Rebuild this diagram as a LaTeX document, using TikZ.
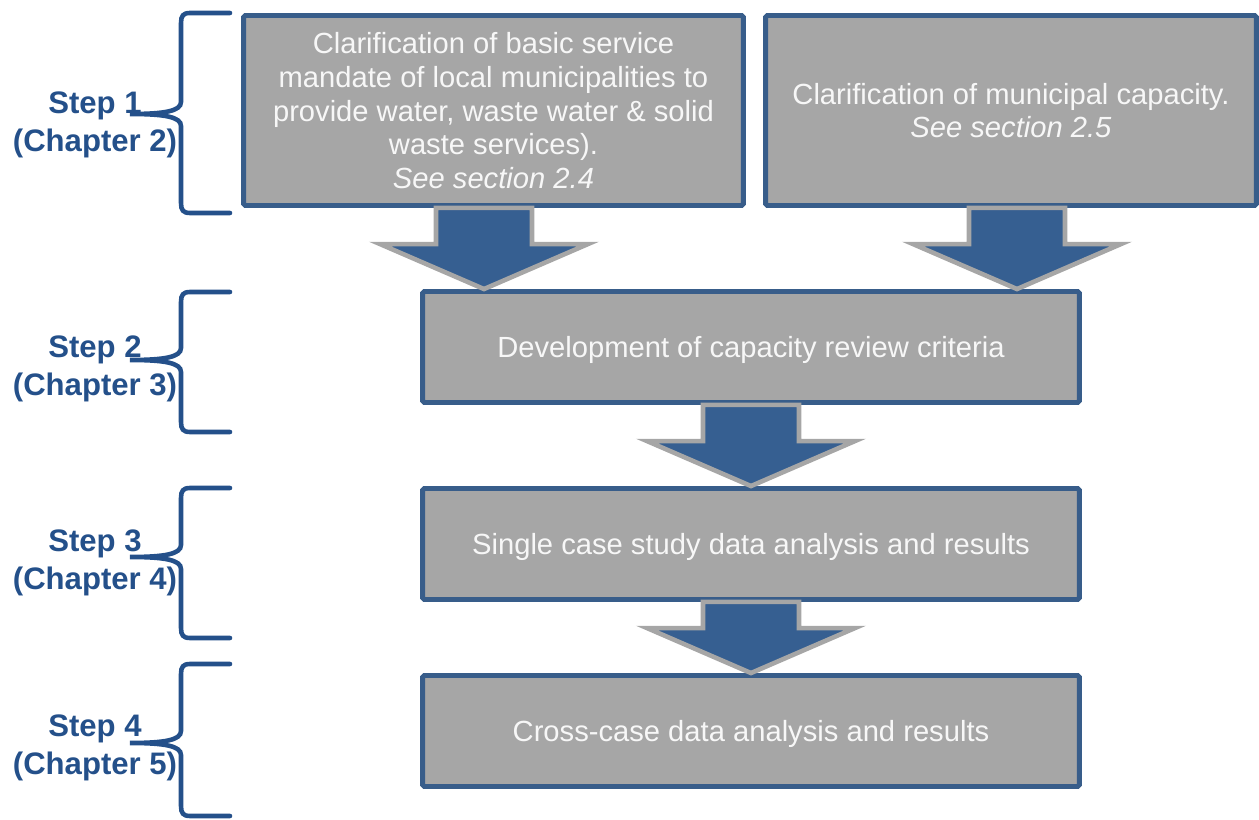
\documentclass[tikz,border=0pt]{standalone}
\usepackage{fontspec}
\setmainfont{Liberation Sans}
\usetikzlibrary{calc,positioning}

\definecolor{boxblue}{HTML}{385D8A}
\definecolor{arrowblue}{HTML}{365F91}
\definecolor{stepblue}{HTML}{24508A}
\definecolor{boxgray}{HTML}{A6A6A6}
\definecolor{boxtext}{HTML}{F7F7F7}

\tikzset{
  stagebox/.style={draw=boxblue,fill=boxgray,line width=2.8pt,rounded corners=1pt,
    text=boxtext,align=center,inner sep=0pt,text depth=0pt,font=\fontsize{16.6}{19.2}\selectfont},
  blockarrow/.style={draw=boxgray,fill=arrowblue,line width=2.6pt,line join=miter},
  stepbrace/.style={draw=stepblue,line width=2.6pt,line cap=round},
  steplabel/.style={text=stepblue,align=center,font=\bfseries\fontsize{17.7}{21.5}\selectfont}
}

\newcommand{\flowarrow}[3]{%
  \coordinate (ax) at (#1,0);
  \coordinate (tail) at (#2.south -| ax);
  \coordinate (head) at (#3.north -| ax);
  \draw[blockarrow] ($(tail)+(-48,0)$) -- ($(head)+(-48,-45)$) -- ($(head)+(-104,-45)$)
    -- (head) -- ($(head)+(104,-45)$) -- ($(head)+(48,-45)$) -- ($(tail)+(48,0)$) -- cycle;
}
\newcommand{\chapterbrace}[3]{%
  \draw[stepbrace] (230,#1) -- (190,#1) .. controls (183,#1) and (181,#1+3) .. (181,#1+10)
    -- (181,#2-12) .. controls (181,#2-3) and (165,#2) .. (130,#2)
    .. controls (165,#2) and (181,#2+3) .. (181,#2+12)
    -- (181,#3-10) .. controls (181,#3-3) and (183,#3) .. (190,#3) -- (230,#3);
}

\begin{document}
\begin{tikzpicture}[x=0.02cm,y=-0.02cm]
\useasboundingbox (0,0) rectangle (1259,820);

\node[stagebox,minimum width=10cm,minimum height=3.8cm] (clarmandate) at (493.5,110.5)
  {Clarification of basic service\\mandate of local municipalities to\\provide water, waste water \& solid\\waste services).\\\textit{See section 2.4}};
\node[stagebox,minimum width=9.82cm,minimum height=3.8cm] (clarcapacity) at (1011,110.5)
  {Clarification of municipal capacity.\\\textit{See section 2.5}};
\node[stagebox,minimum width=13.14cm,minimum height=2.22cm] (development) at (751,347)
  {Development of capacity review criteria};
\node[stagebox,minimum width=13.14cm,minimum height=2.22cm] (singlecase) at (751,544)
  {Single case study data analysis and results};
\node[stagebox,minimum width=13.14cm,minimum height=2.22cm] (crosscase) at (751,731)
  {Cross-case data analysis and results};

\flowarrow{484}{clarmandate}{development}
\flowarrow{1017}{clarcapacity}{development}
\flowarrow{751}{development}{singlecase}
\flowarrow{751}{singlecase}{crosscase}

\chapterbrace{13}{114}{213}
\chapterbrace{292}{360}{432}
\chapterbrace{488}{557}{638}
\chapterbrace{664}{743}{816}

\node[steplabel] (step1) at (95,124.5) {Step 1\\(Chapter 2)};
\node[steplabel] (step2) at (95,369) {Step 2\\(Chapter 3)};
\node[steplabel] (step3) at (95,563) {Step 3\\(Chapter 4)};
\node[steplabel] (step4) at (95,747.5) {Step 4\\(Chapter 5)};
\end{tikzpicture}
\end{document}
